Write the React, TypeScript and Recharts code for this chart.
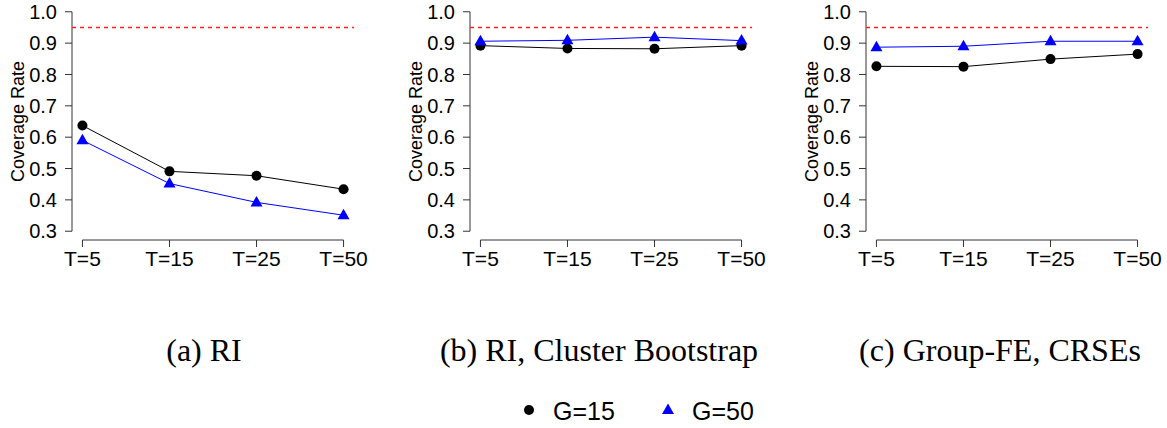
import { LineChart, Line, XAxis, YAxis, ReferenceLine } from 'recharts';

const categories = ['T=5', 'T=15', 'T=25', 'T=50'];
const yTicks = [0.3, 0.4, 0.5, 0.6, 0.7, 0.8, 0.9, 1.0];
const nominalRate = 0.95;

// (a) RI
const riG15 = [0.637, 0.491, 0.477, 0.434];
const riG50 = [0.59, 0.452, 0.392, 0.351];
// (b) RI, Cluster Bootstrap
const bootG15 = [0.892, 0.883, 0.882, 0.892];
const bootG50 = [0.906, 0.909, 0.919, 0.908];
// (c) Group-FE, CRSEs
const feG15 = [0.826, 0.825, 0.849, 0.865];
const feG50 = [0.887, 0.89, 0.906, 0.906];

const captions = ['(a) RI', '(b) RI, Cluster Bootstrap', '(c) Group-FE, CRSEs'];
const seriesNames = ['G=15', 'G=50'];

const SANS = '"Liberation Sans", Arial, Helvetica, sans-serif';
const SERIF = '"Liberation Serif", "Times New Roman", serif';
const AXIS = '#333';

// R-style 4% padding of the plot region around the data range
const xMin = 1 - 0.04 * (categories.length - 1);
const xMax = categories.length + 0.04 * (categories.length - 1);
const yLo = yTicks[0];
const yHi = yTicks[yTicks.length - 1];
const yMin = yLo - 0.04 * (yHi - yLo);
const yMax = yHi + 0.04 * (yHi - yLo);

const xTicks = categories.map((_, i) => i + 1);

function TriangleDot(props: any) {
  const { cx, cy, index } = props;
  if (cx == null || cy == null) return null;
  return (
    <polygon
      key={`tri-${index}`}
      points={`${cx},${cy - 6.5} ${cx - 6},${cy + 4} ${cx + 6},${cy + 4}`}
      fill="#0000ff"
    />
  );
}

function Panel({ g15, g50 }: { g15: number[]; g50: number[] }) {
  const data = categories.map((c, i) => ({ x: i + 1, name: c, g15: g15[i], g50: g50[i] }));
  return (
    <LineChart width={372} height={290} data={data} margin={{ top: 3, right: 18, bottom: 0, left: 0 }}>
      <XAxis
        dataKey="x"
        type="number"
        domain={[xMin, xMax]}
        allowDataOverflow
        ticks={xTicks}
        interval={0}
        tickFormatter={(v: number) => categories[v - 1]}
        height={50}
        axisLine={false}
        tickLine={{ stroke: AXIS }}
        tickSize={7}
        tickMargin={4}
        tick={{ fontSize: 21, fill: '#000', fontFamily: SANS }}
      />
      <YAxis
        type="number"
        domain={[yMin, yMax]}
        allowDataOverflow
        ticks={yTicks}
        interval={0}
        tickFormatter={(v: number) => v.toFixed(1)}
        width={72}
        axisLine={false}
        tickLine={{ stroke: AXIS }}
        tickSize={7}
        tickMargin={8}
        tick={{ fontSize: 20, fill: '#000', fontFamily: SANS }}
        label={{
          value: 'Coverage Rate',
          angle: -90,
          position: 'insideLeft',
          offset: 18,
          style: { textAnchor: 'middle', fontSize: 18, fill: '#000', fontFamily: SANS },
        }}
      />
      <ReferenceLine segment={[{ x: xMin, y: yLo }, { x: xMin, y: yHi }]} stroke={AXIS} ifOverflow="visible" />
      <ReferenceLine segment={[{ x: 1, y: yMin }, { x: categories.length, y: yMin }]} stroke={AXIS} ifOverflow="visible" />
      <ReferenceLine
        segment={[{ x: xMin, y: nominalRate }, { x: xMax, y: nominalRate }]}
        stroke="#ff2020"
        strokeWidth={1.5}
        strokeDasharray="4 4"
        ifOverflow="visible"
      />
      <Line
        dataKey="g15"
        stroke="#000"
        strokeWidth={1}
        dot={{ r: 5, fill: '#000', stroke: 'none' }}
        activeDot={false}
        isAnimationActive={false}
      />
      <Line
        dataKey="g50"
        stroke="#0000ff"
        strokeWidth={1}
        dot={TriangleDot}
        activeDot={false}
        isAnimationActive={false}
      />
    </LineChart>
  );
}

const panelLefts = [0, 398, 794];
const captionCenters = [204, 599, 1000];

export default function App() {
  const panels = [
    { g15: riG15, g50: riG50 },
    { g15: bootG15, g50: bootG50 },
    { g15: feG15, g50: feG50 },
  ];
  return (
    <div
      style={{
        position: 'absolute', left: 0, top: 0, width: 1167, height: 428,
        background: '#fff', overflow: 'hidden',
      }}
    >
      {panels.map((p, i) => (
        <div key={i} style={{ position: 'absolute', left: panelLefts[i], top: 0 }}>
          <Panel g15={p.g15} g50={p.g50} />
        </div>
      ))}
      <svg width={1167} height={428} style={{ position: 'absolute', left: 0, top: 0, pointerEvents: 'none' }}>
        {captions.map((c, i) => (
          <text key={c} x={captionCenters[i]} y={361} textAnchor="middle" fontFamily={SERIF} fontSize={32} fill="#000">
            {c}
          </text>
        ))}
        <circle cx={529} cy={410} r={5} fill="#000" />
        <text x={553} y={420} fontFamily={SANS} fontSize={25} fill="#000">{seriesNames[0]}</text>
        <polygon points="668,403.5 662,414 674,414" fill="#0000ff" />
        <text x={692} y={420} fontFamily={SANS} fontSize={25} fill="#000">{seriesNames[1]}</text>
      </svg>
    </div>
  );
}
